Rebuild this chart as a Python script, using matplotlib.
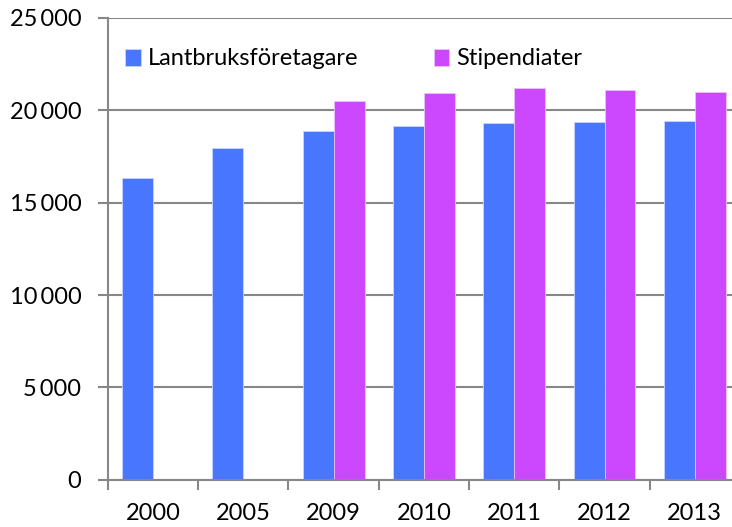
import matplotlib
matplotlib.use("Agg")
import matplotlib.pyplot as plt
import numpy as np
from matplotlib.ticker import FuncFormatter

years = ["2000", "2005", "2009", "2010", "2011", "2012", "2013"]
lantbruk = [16330, 17950, 18870, 19140, 19290, 19360, 19410]
stipendiater = [np.nan, np.nan, 20530, 20950, 21200, 21110, 21020]
series_names = ["Lantbruksföretagare", "Stipendiater"]
colors = ["#4876FF", "#CC48FF"]

plt.rcParams['font.family'] = ['Lato', 'DejaVu Sans']

W, H = 732, 527
fig = plt.figure(figsize=(W / 100, H / 100), dpi=100)
ax = fig.add_axes([107.7 / W, (H - 479.7) / H, (740 - 107.7) / W, (479.7 - 18) / H])

x = np.arange(len(years))
bw = 0.343
grid_c = "#878787"
ax.set_axisbelow(True)
ax.yaxis.grid(True, color=grid_c, linewidth=1.5)
b1 = ax.bar(x - bw / 2, lantbruk, width=bw, color=colors[0], edgecolor="#C9D4FF", linewidth=0.6, label=series_names[0])
b2 = ax.bar(x + bw / 2, stipendiater, width=bw, color=colors[1], edgecolor="#ECC0FF", linewidth=0.6, label=series_names[1])

ax.set_ylim(0, 25000)
ax.set_xlim(-0.5, len(years) - 0.5)
ax.set_yticks(np.arange(0, 25001, 5000))
ax.yaxis.set_major_formatter(FuncFormatter(lambda v, p: f"{int(v):,}".replace(",", "\u2009")))

ax.set_xticks(np.arange(-0.5, len(years), 1.0))
ax.set_xticklabels([])
ax.set_xticks(x, minor=True)
ax.set_xticklabels(years, minor=True)
ax.tick_params(axis="x", which="major", length=7, width=1.5, color=grid_c, direction="out")
ax.tick_params(axis="x", which="minor", length=0, pad=17, labelsize=17)
ax.tick_params(axis="y", length=7, width=1.5, color=grid_c, pad=12, labelsize=17)

for s in ["top", "right"]:
    ax.spines[s].set_visible(False)
for s in ["left", "bottom"]:
    ax.spines[s].set_color(grid_c)
    ax.spines[s].set_linewidth(1.5)

leg = ax.legend(loc="upper left", bbox_to_anchor=(-0.006, 0.98), ncol=2, frameon=False,
                fontsize=17, handlelength=0.65, handleheight=0.75, handletextpad=0.3,
                columnspacing=3.2)

fig.savefig("out.png", dpi=100)
